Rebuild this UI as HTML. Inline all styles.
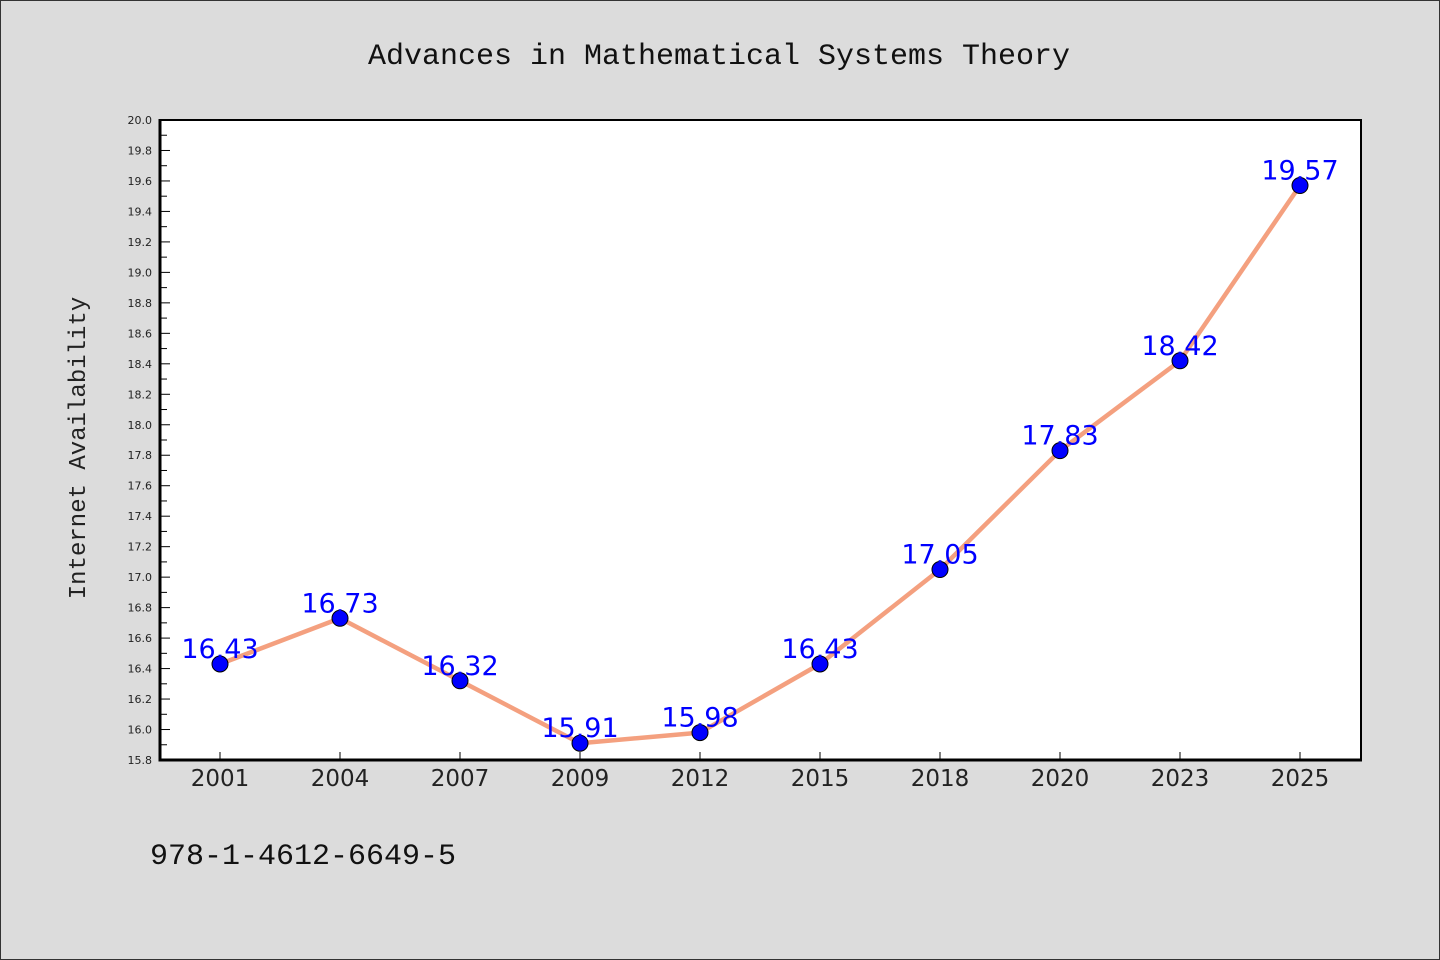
<!DOCTYPE html>
<html><head><meta charset="utf-8"><style>
html,body{margin:0;padding:0;background:#dcdcdc;}
svg{display:block;}
</style></head><body>
<svg width="1440" height="960" viewBox="0 0 1440 960" xmlns="http://www.w3.org/2000/svg">
<rect x="0.5" y="0.5" width="1439" height="959" fill="#dcdcdc" stroke="#333" stroke-width="1"/>
<text x="719" y="64" text-anchor="middle" font-family="'Liberation Mono','WenQuanYi Zen Hei',monospace" font-size="30" fill="#111">Advances in Mathematical Systems Theory</text>
<rect x="160" y="120" width="1201" height="640" fill="#fff"/>
<g id="yaxis"></g>
<g id="xaxis"></g>
<g id="series"></g>
<path d="M160,120 H1361 V760" fill="none" stroke="#000" stroke-width="2"/>
<path d="M160,119 V760 H1362" fill="none" stroke="#000" stroke-width="3"/>
<text transform="translate(85,448) rotate(-90)" text-anchor="middle" font-family="'Liberation Mono',monospace" font-size="24" fill="#222">Internet Availability</text>
<text x="150" y="864" font-family="'Liberation Mono',monospace" font-size="30" fill="#111">978-1-4612-6649-5</text>
</svg>
<script>
const categories=["2001","2004","2007","2009","2012","2015","2018","2020","2023","2025"];
const values=[16.43,16.73,16.32,15.91,15.98,16.43,17.05,17.83,18.42,19.57];
const yTicks=["15.8","16.0","16.2","16.4","16.6","16.8","17.0","17.2","17.4","17.6","17.8","18.0","18.2","18.4","18.6","18.8","19.0","19.2","19.4","19.6","19.8","20.0"];
const NS="http://www.w3.org/2000/svg";
const L=160,R=1360,T=120,B=760,yMin=15.8,yMax=20.0;
const y=v=>B-(v-yMin)/(yMax-yMin)*(B-T);
const bw=(R-L)/categories.length;
const x=i=>L+bw*(i+0.5);
function mk(tag,attrs,parent){const e=document.createElementNS(NS,tag);for(const k in attrs)e.setAttribute(k,attrs[k]);parent.appendChild(e);return e;}
const ya=document.getElementById('yaxis'),xa=document.getElementById('xaxis'),sg=document.getElementById('series');
yTicks.forEach((t,i)=>{
  const v=parseFloat(t),yy=y(v);
  const ln=mk('line',{x1:L,x2:L+10,y1:yy,y2:yy,stroke:'#000','stroke-width':1},ya);
  
  
  const tx=mk('text',{x:L-8,y:yy+4,'text-anchor':'end','font-family':"'DejaVu Sans',sans-serif",'font-size':11,fill:'#222'},ya);
  tx.textContent=t;
  
  
  if(i<yTicks.length-1){
    const ym=y(v+0.1);
    const mn=mk('line',{x1:L,x2:L+7,y1:ym,y2:ym,stroke:'#000','stroke-width':1},ya);
    
    
  }
});
categories.forEach((c,i)=>{
  const tk=mk('line',{x1:x(i),x2:x(i),y1:B,y2:B-8,stroke:'#000','stroke-width':1},xa);
  
  
  const tx=mk('text',{x:x(i),y:B+26,'text-anchor':'middle','font-family':"'DejaVu Sans',sans-serif",'font-size':23,fill:'#222'},xa);
  tx.textContent=c;
  
  
});
const pts=values.map((v,i)=>x(i)+','+y(v)).join(' ');
const pl=mk('polyline',{points:pts,fill:'none',stroke:'#f4a07f','stroke-width':4.5,'stroke-linejoin':'round'},sg);


values.forEach((v,i)=>{
  const c=mk('circle',{cx:x(i),cy:y(v),r:8,fill:'#0000ff',stroke:'#000','stroke-width':1},sg);
  
  
});
values.forEach((v,i)=>{
  const t=mk('text',{x:x(i),y:y(v)-6,'text-anchor':'middle','font-family':"'DejaVu Sans',sans-serif",'font-size':27,fill:'#0000ff'},sg);
  t.textContent=v.toFixed(2);
  
  
});
</script>
</body></html>
